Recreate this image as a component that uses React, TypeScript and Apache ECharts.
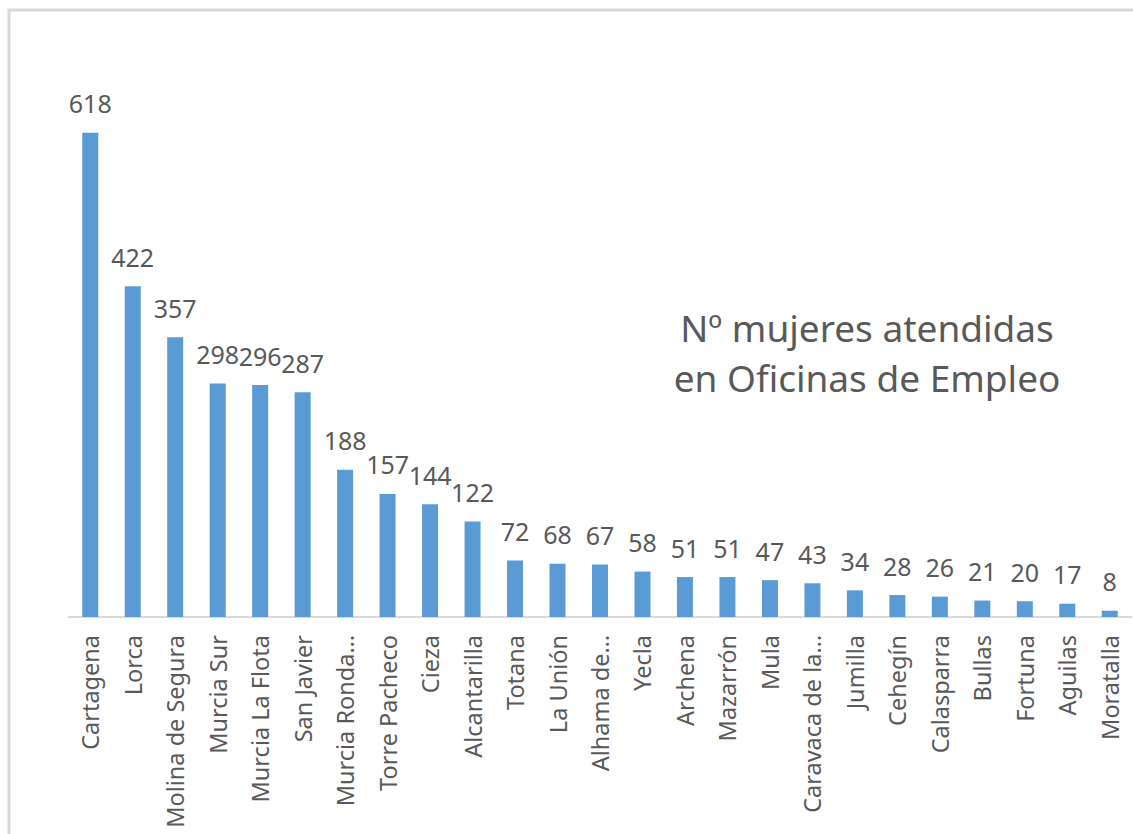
import React, { useEffect, useRef } from "react";
import * as echarts from "echarts";

const categories: string[] = [
  "Cartagena",
  "Lorca",
  "Molina de Segura",
  "Murcia Sur",
  "Murcia La Flota",
  "San Javier",
  "Murcia Ronda…",
  "Torre Pacheco",
  "Cieza",
  "Alcantarilla",
  "Totana",
  "La Unión",
  "Alhama de…",
  "Yecla",
  "Archena",
  "Mazarrón",
  "Mula",
  "Caravaca de la…",
  "Jumilla",
  "Cehegín",
  "Calasparra",
  "Bullas",
  "Fortuna",
  "Aguilas",
  "Moratalla",
];

const values: number[] = [
  618, 422, 357, 298, 296, 287, 188, 157, 144, 122, 72, 68, 67, 58, 51, 51, 47, 43, 34, 28, 26, 21, 20, 17, 8,
];

const titleLines: string[] = ["Nº mujeres atendidas", "en Oficinas de Empleo"];

const FONT = "'Noto Sans', 'Open Sans', sans-serif";

export default function App() {
  const ref = useRef<HTMLDivElement>(null);

  useEffect(() => {
    if (!ref.current) return;
    const chart = echarts.init(ref.current, undefined, { renderer: "svg" });
    chart.setOption({
      animation: false,
      backgroundColor: "#ffffff",
      grid: { left: 69, right: 2, top: 9, bottom: 217, containLabel: false },
      xAxis: {
        type: "category",
        data: categories,
        axisLine: { show: true, lineStyle: { color: "#d9d9d9", width: 2 } },
        axisTick: { show: false },
        axisLabel: {
          rotate: 90,
          interval: 0,
          margin: 18,
          color: "#595959",
          fontSize: 23.5,
          fontFamily: FONT,
        },
      },
      yAxis: {
        type: "value",
        min: 0,
        max: 776,
        show: false,
        splitLine: { show: false },
      },
      series: [
        {
          type: "bar",
          data: values,
          barWidth: 16,
          itemStyle: { color: "#5b9bd5" },
          label: {
            show: true,
            position: "top",
            distance: 17,
            color: "#595959",
            fontSize: 25,
            fontFamily: FONT,
          },
        },
      ],
      graphic: [
        {
          type: "rect",
          shape: { x: 9, y: 10, width: 1200, height: 900 },
          style: { fill: "none", stroke: "#d9d9d9", lineWidth: 3 },
          silent: true,
        },
        {
          type: "text",
          x: 867,
          y: 352,
          style: {
            text: titleLines.join("\n"),
            fill: "#595959",
            fontSize: 37,
            fontFamily: FONT,
            align: "center",
            verticalAlign: "middle",
            lineHeight: 50,
          },
        },
      ],
    });
    return () => chart.dispose();
  }, []);

  return (
    <div
      ref={ref}
      style={{ position: "fixed", left: 0, top: 0, width: 1133, height: 834 }}
    />
  );
}
